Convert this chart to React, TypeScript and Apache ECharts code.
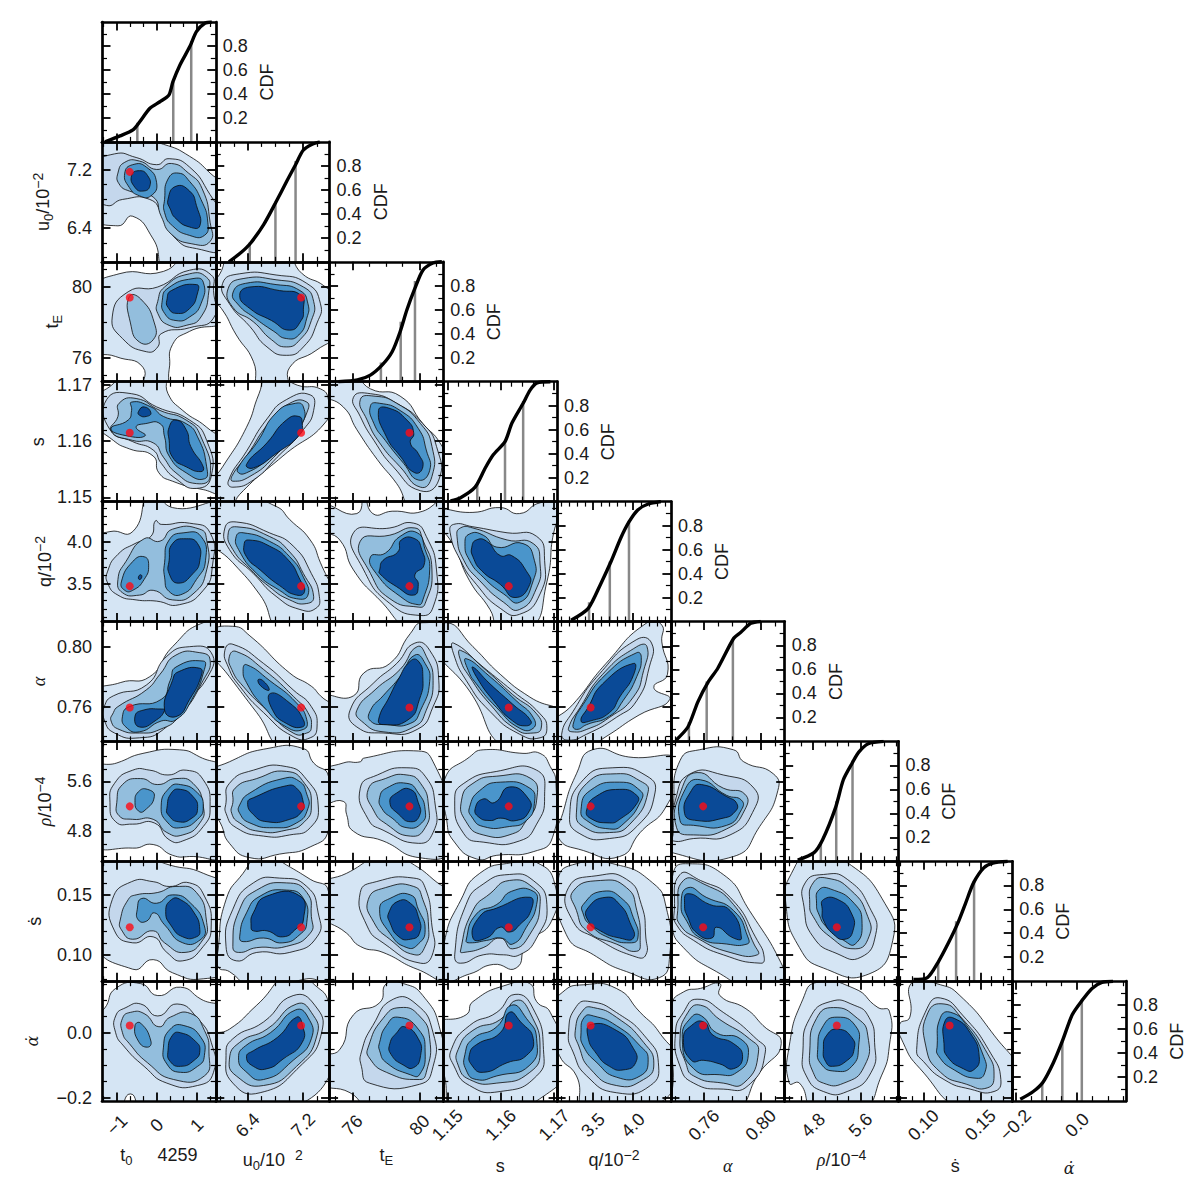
import React, { useEffect, useRef } from "react";
import * as echarts from "echarts";

const PARAMS = ["t0", "u0", "tE", "s", "q", "alpha", "rho", "sdot", "adot"];
const AXIS_MIN = [-1.375, 5.94, 74.64, 1.14925, 3.05, 0.73684, 4.32, 0.0781, -0.21];
const AXIS_MAX = [1.475, 7.58, 81.42, 1.17056, 4.475, 0.8168, 6.24, 0.178, 0.158];
const MAJOR_TICKS = [[-1, 0, 1], [6.4, 7.2], [76, 80], [1.15, 1.16, 1.17], [3.5, 4.0], [0.76, 0.8], [4.8, 5.6], [0.1, 0.15], [-0.2, 0]];
const MINOR_TICKS = [
  [-1.333, -0.667, -0.333, 0.333, 0.667, 1.333],
  [6.0, 6.2, 6.6, 6.8, 7.0, 7.4],
  [75, 77, 78, 79, 81],
  [1.152, 1.154, 1.156, 1.158, 1.162, 1.164, 1.166, 1.168],
  [3.1, 3.2, 3.3, 3.4, 3.6, 3.7, 3.8, 3.9, 4.1, 4.2, 4.3, 4.4],
  [0.74, 0.75, 0.77, 0.78, 0.79, 0.81],
  [4.4, 4.6, 5.0, 5.2, 5.4, 5.8, 6.0, 6.2],
  [0.08, 0.09, 0.11, 0.12, 0.13, 0.14, 0.16, 0.17],
  [-0.15, -0.1, -0.05, 0.05, 0.1, 0.15],
];
const DECIMALS = [0, 1, 0, 2, 1, 2, 1, 2, 1];
const NB = "\u00a0";
const X_TITLES = [
  `{m|t}{d|0}{m|${NB}${NB}${NB}${NB}${NB}4259}`,
  `{m|u}{d|0}{m|/10${NB}${NB}}{u|2}`,
  "{m|t}{d|E}",
  "{m|s}",
  "{m|q/10}{u|\u22122}",
  "{g|\u03b1}",
  "{g|\u03c1}{m|/10}{u|\u22124}",
  "{m|\u1e61}",
  "{h|\u03b1\u0307}",
];
const Y_TITLES = [
  "",
  "{m|u}{d|0}{m|/10}{u|\u22122}",
  "{m|t}{d|E}",
  "{m|s}",
  "{m|q/10}{u|\u22122}",
  "{g|\u03b1}",
  "{g|\u03c1}{m|/10}{u|\u22124}",
  "{m|\u1e61}",
  "{h|\u03b1\u0307}",
];
const X_TITLE_GAP = [42, 47, 42, 53, 47, 53, 47, 53, 55];
const Y_TITLE_GAP = [0, 47, 38, 52, 45, 51, 45, 55, 58];

const BEST_FIT = [-0.68, 7.17, 79.4, 1.1615, 3.47, 0.7595, 5.2, 0.123, 0.022];
const LEVEL_COLORS = ["#d5e5f4", "#c4d7ec", "#93bedd", "#4a95cb", "#0a4a97"];

const CDF_LEVELS = [0.16, 0.5, 0.84];
const CDF_TICKS_MAJOR = [0.2, 0.4, 0.6, 0.8];
const CDF_TICKS_MINOR = [0.1, 0.3, 0.5, 0.7, 0.9];

const cdf_t0 = [[-1.3, 0], [-0.925, 0.05], [-0.6, 0.1], [-0.425, 0.17], [-0.175, 0.28], [0.075, 0.335], [0.3, 0.39], [0.4, 0.5], [0.575, 0.64], [0.825, 0.795], [0.99, 0.92], [1.2, 0.99], [1.375, 1]];
const cdf_u0 = [[6.13, 0], [6.3, 0.075], [6.44, 0.155], [6.63, 0.31], [6.8, 0.49], [6.97, 0.68], [7.09, 0.81], [7.2, 0.93], [7.33, 0.98], [7.44, 1]];
const cdf_tE = [[75.17, 0], [76.3, 0.015], [77.07, 0.055], [77.78, 0.14], [78.37, 0.25], [78.84, 0.415], [79.25, 0.6], [79.73, 0.78], [80.2, 0.93], [80.8, 0.99], [81.33, 1]];
const cdf_s = [[1.1506, 0.005], [1.1524, 0.03], [1.1552, 0.12], [1.1571, 0.28], [1.1586, 0.39], [1.1608, 0.5], [1.1621, 0.655], [1.1642, 0.82], [1.1655, 0.93], [1.1668, 0.99], [1.1693, 1]];
const cdf_q = [[3.225, 0.01], [3.44, 0.11], [3.6, 0.32], [3.725, 0.5], [3.85, 0.7], [3.95, 0.83], [4.06, 0.93], [4.19, 0.98], [4.35, 1]];
const cdf_alpha = [[0.7404, 0.01], [0.7488, 0.12], [0.7558, 0.33], [0.7628, 0.49], [0.7698, 0.61], [0.781, 0.86], [0.786, 0.91], [0.793, 0.985], [0.8, 1]];
const cdf_rho = [[4.54, 0.01], [4.81, 0.07], [4.96, 0.18], [5.18, 0.45], [5.31, 0.68], [5.46, 0.82], [5.57, 0.91], [5.73, 0.98], [5.99, 1]];
const cdf_sdot = [[0.0912, 0.015], [0.1035, 0.03], [0.113, 0.16], [0.122, 0.32], [0.13, 0.48], [0.137, 0.65], [0.144, 0.82], [0.153, 0.945], [0.161, 0.985], [0.174, 1]];
const cdf_adot = [[-0.184, 0.015], [-0.142, 0.08], [-0.11, 0.16], [-0.077, 0.32], [-0.048, 0.5], [-0.016, 0.72], [0.016, 0.84], [0.048, 0.94], [0.08, 0.99], [0.116, 1]];
const CDF_CURVES = [cdf_t0, cdf_u0, cdf_tE, cdf_s, cdf_q, cdf_alpha, cdf_rho, cdf_sdot, cdf_adot];
const QUANTILES = [[-0.49, 0.41, 0.86], [6.43, 6.8, 7.09], [77.7, 78.88, 79.73], [1.1556, 1.1608, 1.1642], [3.45, 3.71, 3.95], [0.7495, 0.762, 0.7804], [4.93, 5.19, 5.465], [0.113, 0.1287, 0.1445], [-0.113, -0.048, 0.015]];

// Contours: [level, a, b, a, b, ...]; a and b are percentages of the column and row parameter ranges.
const u0_t0 = [
  [0, 10,100,54,98,77,88,95,74,100,60,100,0,58,0,45,19,27,38,14,30,0,40,0,94],
  [1, 0,79,11,90,30,87,48,81,59,86,77,79,95,56,100,33,100,11,83,11,65,19,53,39,42,52,18,52,4,47,0,58],
  [2, 14,74,20,83,33,84,48,77,61,82,76,74,88,61,95,33,95,17,79,15,61,23,52,38,45,54,24,59,15,65],
  [3, 20,74,27,81,39,79,48,66,43,55,33,55,24,62],
  [3, 55,52,58,69,67,74,77,67,87,52,93,33,90,22,77,22,62,30,55,41],
  [4, 26,72,33,76,40,72,42,63,36,59,29,62],
  [4, 58,52,65,63,77,59,83,47,86,30,77,29,65,36,60,44],
];
const tE_t0 = [
  [0, 0,75,15,90,54,92,77,100,100,100,100,54,77,42,62,31,59,10,55,0,37,0,36,12,12,21,0,28],
  [1, 9,54,23,75,49,79,77,93,96,89,98,76,98,53,77,45,52,40,49,29,39,25,18,36],
  [2, 24,71,34,69,46,49,45,35,33,33,25,49],
  [2, 49,67,55,79,77,90,92,87,94,76,87,54,74,47,59,47,49,57],
  [3, 53,68,58,78,80,86,89,83,87,65,77,54,65,51,55,57],
  [4, 57,68,61,76,83,81,84,74,77,61,65,57,58,62],
];
const s_t0 = [
  [0, 0,85,7,96,24,100,54,100,58,90,71,76,92,62,100,46,100,8,89,10,62,17,50,24,45,38,24,44,10,51,0,68],
  [1, 4,85,26,90,48,79,77,68,92,51,96,21,83,11,65,19,52,32,45,43,27,50,7,60],
  [2, 14,71,15,82,30,86,51,76,74,68,87,54,95,21,83,15,65,24,54,37,45,49,27,51,8,59],
  [3, 26,83,43,79,54,71,74,65,84,54,92,29,90,19,74,24,59,38,55,54,51,65,38,65,30,62,38,55,21,55,8,61,23,68,26,76],
  [4, 32,75,37,79,43,74,39,71,33,72],
  [4, 59,62,65,68,74,60,78,46,89,29,87,25,74,29,62,37,59,51],
];
const q_t0 = [
  [0, 0,67,7,75,27,75,43,100,62,95,100,93,100,0,9,0,0,15],
  [1, 5,42,14,56,29,65,43,71,47,84,52,81,77,82,95,74,97,46,89,26,68,14,48,17,30,18,14,22,5,32],
  [2, 14,35,21,50,37,69,51,67,62,77,86,77,92,68,92,43,80,23,62,18,45,26,33,22,18,24],
  [3, 17,33,27,50,37,54,41,47,37,35,27,26,20,26],
  [3, 55,49,59,68,72,74,87,71,91,51,83,35,71,23,59,25,55,37],
  [4, 32,37,34,39,35,37,33,35],
  [4, 59,51,62,65,74,69,84,65,86,51,80,40,67,32,59,40],
];
const alpha_t0 = [
  [0, 0,38,16,49,42,54,62,79,89,99,100,96,100,0,0,0],
  [1, 2,29,10,38,39,47,57,71,77,79,96,74,93,54,68,28,54,10,33,3,11,7,2,18],
  [2, 10,24,14,29,39,43,51,56,65,72,86,74,95,68,89,51,68,21,51,10,33,7,15,10,8,17],
  [3, 18,21,24,29,52,35,60,51,65,62,89,67,90,60,79,35,65,18,52,17,33,8,21,12],
  [4, 29,21,36,26,52,27,55,26,48,18,33,12],
  [4, 55,26,62,51,67,58,86,61,87,54,77,35,66,21],
];
const rho_t0 = [
  [0, 0,76,13,82,36,90,68,93,86,87,100,74,100,7,77,4,62,5,45,14,27,11,0,17],
  [1, 7,49,11,65,27,76,42,76,58,72,74,76,89,68,95,46,89,29,71,17,59,18,46,32,27,31,12,33],
  [2, 13,49,18,64,34,69,49,64,65,69,80,65,89,46,86,32,71,22,57,24,45,35,27,35,15,38],
  [3, 29,49,32,58,40,60,46,54,37,42,32,42],
  [3, 52,46,59,61,69,64,84,57,89,46,84,35,69,28,58,32],
  [4, 57,44,61,57,69,60,80,54,84,44,79,36,67,33,58,39],
];
const sdot_t0 = [
  [0, 0,97,24,100,59,97,89,90,100,76,100,12,89,2,62,7,45,18,27,10,0,35],
  [1, 9,68,26,83,45,83,59,79,77,82,90,71,96,46,89,29,71,17,57,24,45,37,27,32,11,42],
  [2, 16,51,23,68,30,72,49,74,65,79,83,74,92,49,89,35,73,24,55,32,45,42,27,35,17,43],
  [3, 31,60,35,69,48,65,62,72,78,65,90,46,87,35,71,32,55,47,46,57,39,50,32,51],
  [4, 56,58,61,68,69,68,81,57,86,43,83,37,71,37,61,46],
];
const adot_t0 = [
  [0, 2,77,12,94,34,98,49,88,69,95,87,85,100,74,100,0,37,0,25,6,13,0,0,0,0,70],
  [1, 12,71,21,78,34,81,49,71,66,81,84,69,96,49,98,24,84,13,57,15,37,29,19,46,12,57],
  [2, 18,69,25,74,37,73,50,62,60,70,78,73,90,59,94,41,90,21,63,18,40,32,24,48,18,57],
  [3, 29,63,34,65,43,50,40,45,32,50],
  [3, 54,45,60,60,72,63,87,53,90,38,84,29,69,24,57,31],
  [4, 58,42,62,55,69,57,82,50,86,42,81,34,69,29,60,33],
];
const tE_u0 = [
  [0, 0,74,3,89,15,100,60,100,76,90,95,80,100,67,100,42,88,26,65,12,62,0,39,0,33,17,18,39,5,61],
  [1, 6,82,21,90,53,89,80,82,92,65,89,49,77,29,62,22,45,29,30,46,12,65],
  [2, 11,78,24,86,53,85,77,79,86,67,84,51,74,35,62,29,49,35,33,50,15,62],
  [3, 15,74,26,82,53,81,74,76,81,65,80,53,73,39,62,36,51,42,33,54,20,64],
  [4, 21,72,30,79,56,76,75,72,77,60,75,51,65,43,49,51,30,61],
];
const s_u0 = [
  [0, 0,10,6,29,27,62,38,90,47,100,72,97,92,94,99,85,98,68,59,38,21,6,12,0,0,0],
  [1, 11,17,27,42,45,69,62,85,83,89,86,76,77,60,54,37,33,18,15,12],
  [2, 14,21,27,38,47,66,65,82,80,83,80,74,71,60,51,37,30,21,15,17],
  [3, 20,29,36,49,53,74,70,82,77,79,76,65,65,54,45,35,27,24,20,24],
  [4, 27,31,45,49,62,68,73,71,76,65,74,56,53,40,33,28],
];
const q_u0 = [
  [0, 0,90,12,100,53,96,65,85,83,68,92,49,100,13,100,0,59,0,39,22,15,49,0,71],
  [1, 8,78,18,83,47,74,68,63,84,40,91,21,88,11,74,10,53,21,33,40,12,60],
  [2, 11,74,18,79,47,71,65,58,77,40,86,21,80,15,65,18,47,29,30,44,15,60],
  [3, 18,71,24,74,47,67,65,54,77,37,81,22,71,19,56,26,36,40,20,60],
  [4, 25,65,29,68,47,63,64,51,74,35,78,25,71,22,56,30,39,43,27,54],
];
const alpha_u0 = [
  [0, 0,90,15,96,30,88,65,57,84,46,92,38,100,24,100,0,62,0,36,24,12,54,0,79],
  [1, 8,76,15,81,42,65,68,43,84,29,89,12,83,3,68,4,42,24,21,46,11,62],
  [2, 12,71,18,75,42,60,71,35,81,24,84,12,80,7,68,7,45,26,24,46,14,60],
  [3, 24,60,27,64,47,51,71,32,80,18,77,10,62,12,42,29,27,49],
  [4, 37,51,41,51,47,43,41,45],
  [4, 48,40,65,32,77,18,76,12,62,15,50,26],
];
const rho_u0 = [
  [0, 0,71,12,83,45,94,77,94,86,82,99,71,99,26,83,12,56,6,30,3,12,15,4,32,0,51],
  [1, 9,49,12,65,33,76,62,79,80,68,90,47,83,28,65,22,42,21,18,28,9,40],
  [2, 15,49,17,61,36,69,62,75,78,65,84,47,78,33,62,26,38,25,21,32,14,40],
  [3, 21,47,30,57,59,69,73,67,80,56,81,44,71,32,51,28,30,32,21,40],
  [4, 28,49,33,53,62,63,71,61,77,49,76,42,65,35,45,33,33,39],
];
const sdot_u0 = [
  [0, 2,26,9,68,24,90,41,100,62,97,83,85,99,75,99,2,80,2,36,0,12,8,2,12],
  [1, 9,29,15,60,33,82,56,86,80,79,90,57,89,37,65,24,36,24,18,17],
  [2, 15,29,21,60,36,76,62,82,80,74,84,54,83,40,62,29,36,28,20,24],
  [3, 21,37,27,57,39,71,62,76,77,69,80,49,74,39,59,32,42,36,24,33],
  [4, 31,46,33,57,45,71,74,71,77,51,71,44,59,37,45,42,33,42],
];
const adot_u0 = [
  [0, 0,52,12,60,36,80,68,100,88,96,99,83,100,40,62,0,0,0],
  [1, 9,38,15,52,42,66,68,88,87,80,93,57,74,29,39,7,15,15],
  [2, 12,35,21,49,45,60,71,81,84,74,89,55,71,29,42,13,18,21],
  [3, 20,36,26,46,48,57,70,76,81,70,84,52,68,34,42,18,26,25],
  [4, 27,37,33,42,54,53,71,70,76,64,76,49,59,35,45,27,33,29],
];
const s_tE = [
  [0, 0,96,18,100,36,94,62,88,82,65,97,49,100,25,100,0,75,0,59,15,42,35,24,60,12,79,0,90],
  [1, 21,87,36,90,59,82,82,65,94,46,96,18,80,9,56,29,39,51,27,71],
  [2, 27,85,39,88,59,82,80,65,90,46,90,21,80,12,62,29,44,49,33,68],
  [3, 36,80,44,82,62,76,78,61,85,43,88,26,78,18,65,32,49,51,39,65],
  [4, 43,76,52,78,68,68,74,57,71,49,78,40,82,29,75,24,62,38,50,54],
];
const q_tE = [
  [0, 0,97,24,90,30,100,38,90,55,92,82,92,100,100,100,0,74,0,44,18,21,43,9,68,0,78],
  [1, 21,74,53,78,74,82,85,71,94,43,91,12,80,5,53,15,30,43],
  [2, 27,67,53,72,75,78,82,68,90,43,84,15,78,12,53,19,36,40],
  [3, 36,54,49,57,62,71,77,74,84,60,88,43,82,18,78,14,62,21,41,40],
  [4, 44,43,47,51,60,58,63,68,75,69,81,60,83,47,75,39,78,31,74,22,59,29,44,40],
];
const alpha_tE = [
  [0, 0,35,21,38,30,57,53,65,71,90,82,99,100,90,100,0,0,0],
  [1, 18,26,39,49,59,65,75,82,88,76,96,51,91,29,77,10,47,7,24,12],
  [2, 24,26,40,43,62,60,77,79,85,71,91,51,85,26,74,12,47,8,28,17],
  [3, 36,26,47,38,62,54,75,72,84,65,88,50,80,26,71,15,50,14,36,17],
  [4, 43,18,53,38,60,51,71,67,78,67,82,54,79,35,69,18,47,14],
];
const rho_tE = [
  [0, 0,72,12,82,27,83,30,86,78,92,91,83,100,35,100,9,79,3,47,17,21,25,15,39,12,50,0,49],
  [1, 27,61,42,72,68,78,84,71,93,46,91,24,78,15,47,26,34,35],
  [2, 34,60,49,69,68,72,80,65,87,46,84,28,71,21,50,31,39,42],
  [3, 44,53,50,61,68,65,78,57,84,43,81,32,68,28,55,36,46,44],
  [4, 53,49,59,57,71,60,78,49,79,38,71,33,61,39],
];
const sdot_tE = [
  [0, 0,79,15,90,53,100,71,99,91,85,100,68,100,2,77,10,47,24,27,29,15,40,0,57],
  [1, 27,74,41,83,74,86,84,78,90,46,91,24,80,15,47,32,33,46],
  [2, 34,68,49,78,74,79,82,68,87,46,84,29,75,22,53,35,39,49],
  [3, 44,60,53,69,71,72,78,60,84,43,78,31,68,28,53,40],
  [4, 52,57,61,67,71,65,78,54,79,40,71,35,61,37,53,49],
];
const adot_tE = [
  [0, 0,36,9,43,21,72,44,82,50,98,65,98,82,88,97,60,100,0,38,0,18,7,0,16],
  [1, 28,41,38,63,56,85,76,81,91,57,91,29,79,14,35,15,28,29],
  [2, 34,45,47,69,62,78,79,71,88,52,85,24,79,18,50,24,35,36],
  [3, 44,49,50,63,60,70,78,60,84,41,79,22,71,22,50,32,44,42],
  [4, 53,48,59,57,66,62,78,52,80,38,74,28,65,30,54,39],
];
const q_s = [
  [0, 0,93,26,91,50,95,67,90,85,99,100,99,98,78,91,33,76,0,50,0,41,10,23,34,8,65,0,85],
  [1, 6,74,9,81,26,79,56,74,82,71,89,51,85,23,67,6,50,11,29,31,15,51],
  [2, 12,71,15,78,26,78,56,68,79,65,85,48,82,28,67,10,53,16,32,34,18,51],
  [3, 19,65,23,73,35,72,47,62,70,65,80,51,79,34,67,16,53,23,35,37,23,51],
  [4, 25,62,29,68,38,67,50,55,60,55,73,42,76,31,63,20,50,31,34,42,26,54],
];
const alpha_s = [
  [0, 3,99,26,79,50,56,76,37,100,20,100,0,58,0,23,42,0,82],
  [1, 9,82,35,62,61,42,85,23,91,11,85,3,67,6,41,25,20,51,9,73],
  [2, 15,76,38,59,61,39,82,23,86,11,79,7,64,10,41,31,23,54,15,68],
  [3, 20,69,41,54,64,34,79,20,79,11,67,11,47,28,29,48,22,59],
  [4, 26,62,41,48,61,31,77,17,73,13,61,17,44,34,29,54],
];
const rho_s = [
  [0, 1,68,23,87,35,93,70,90,85,90,94,79,99,65,96,20,79,8,47,5,29,2,9,17,3,34],
  [1, 10,51,18,65,47,75,82,76,89,54,82,31,67,17,35,16,18,23],
  [2, 16,51,26,65,47,71,77,69,82,51,73,34,61,23,35,22,20,33],
  [3, 23,45,32,59,50,66,76,61,80,48,73,34,58,29,35,29,25,37],
  [4, 28,44,35,52,45,49,58,62,75,52,75,41,64,34,50,36,41,34,31,37],
];
const sdot_s = [
  [0, 1,33,15,67,32,90,61,99,82,99,98,81,95,50,73,31,64,11,44,14,23,6,1,2],
  [1, 10,22,20,64,35,81,58,89,79,84,91,64,82,36,67,22,53,22,35,22,15,15],
  [2, 15,25,26,59,41,73,58,84,79,78,85,64,76,39,61,27,50,36,35,28,18,24],
  [3, 20,34,29,56,47,64,60,75,79,75,82,64,73,45,61,31,51,36,38,34,23,32],
  [4, 26,36,32,54,47,61,76,70,77,59,67,47,58,41,50,45,38,36],
];
const adot_s = [
  [0, 0,62,20,72,26,83,56,97,76,98,82,83,94,74,100,32,88,4,47,0,10,0,1,21],
  [1, 7,43,23,63,47,74,63,89,79,77,88,43,82,21,50,8,23,13,9,30],
  [2, 13,43,26,59,50,68,64,84,76,74,85,43,76,24,47,15,23,18,13,30],
  [3, 19,39,26,52,47,62,60,80,73,69,82,52,76,30,47,21,29,18,20,26],
  [4, 23,39,29,47,50,57,58,74,68,66,79,52,73,38,56,32,35,24,25,30],
];
const alpha_q = [
  [0, 0,11,14,31,43,65,79,99,92,97,92,83,97,56,85,45,99,35,72,22,43,4,21,0,0,0],
  [1, 4,6,14,25,37,56,70,85,83,82,81,62,70,34,52,20,26,6,10,1],
  [2, 10,11,20,28,40,56,70,79,79,79,76,59,67,37,46,20,26,10,13,8],
  [3, 14,14,23,31,43,56,70,74,74,70,70,54,58,34,46,21,26,14,17,10],
  [4, 21,17,27,28,40,48,67,65,67,55,55,37,46,24,29,17],
];
const rho_q = [
  [0, 1,20,5,40,17,73,31,93,63,87,100,83,96,46,73,24,55,4,23,9],
  [1, 11,38,23,68,49,78,79,71,86,57,70,29,46,19,20,23],
  [2, 17,41,26,65,52,73,73,67,80,58,64,31,46,24,23,29],
  [3, 21,43,29,59,55,66,73,59,74,51,58,31,46,27,26,34],
  [4, 26,43,34,54,55,60,70,55,70,48,55,35,46,32,29,36],
];
const sdot_q = [
  [0, 1,85,17,98,49,98,84,82,96,61,99,22,90,3,61,8,32,22,8,39],
  [1, 10,78,35,88,61,85,74,64,78,36,78,22,70,20,34,36,14,50],
  [2, 14,75,38,84,61,78,70,59,73,34,70,25,52,31,26,42,17,59],
  [3, 23,64,40,75,58,68,67,53,71,36,64,32,46,36,29,47,23,56],
  [4, 27,61,43,70,55,64,64,49,67,36,55,36,38,42,27,51],
];
const adot_q = [
  [0, 0,72,5,91,23,97,52,94,73,74,90,57,100,26,76,0,26,0,17,21,2,38],
  [1, 10,57,17,79,29,83,52,74,79,52,89,32,82,13,52,7,26,21,14,41],
  [2, 16,59,23,76,32,78,52,70,76,49,85,31,76,18,52,13,29,27,19,46],
  [3, 21,57,24,70,32,71,52,63,73,46,80,35,73,21,52,20,35,32,23,46],
  [4, 27,54,30,64,52,59,67,44,69,32,58,26,46,29,35,39],
];
const rho_alpha = [
  [0, 1,17,2,45,8,84,25,93,55,93,64,83,90,73,94,59,78,29,55,4,2,7],
  [1, 2,23,4,51,17,73,46,72,73,61,73,43,52,22,20,19,2,17],
  [2, 5,28,9,59,23,74,46,61,65,56,65,43,49,27,20,22],
  [3, 8,34,13,61,26,68,49,55,62,51,62,43,49,30,20,30],
  [4, 12,40,18,59,27,64,49,54,58,48,56,41,46,36,23,34],
];
const sdot_alpha = [
  [0, 1,47,2,90,13,98,46,89,69,59,99,11,99,1,78,0,40,8,11,28],
  [1, 3,59,8,89,26,84,52,70,76,34,82,20,79,15,46,22,20,34,5,47],
  [2, 6,59,11,84,29,81,55,64,73,31,76,22,52,24,23,36,8,47],
  [3, 9,64,15,78,31,70,55,59,68,36,67,31,49,31,26,36,14,50],
  [4, 12,64,15,73,34,64,52,59,62,36,55,36,40,45,36,36,23,40,15,53],
];
const adot_alpha = [
  [0, 1,80,11,91,26,94,43,98,43,88,66,77,81,63,97,48,78,24,55,0,8,0,2,26],
  [1, 4,57,11,74,23,85,46,74,75,52,83,41,68,13,46,10,20,15,8,29],
  [2, 8,52,15,74,26,80,43,68,69,52,77,41,64,15,46,15,20,21,13,32],
  [3, 10,52,18,70,27,71,40,57,61,52,68,38,58,24,43,22,20,27],
  [4, 11,52,18,63,29,66,37,55,55,48,63,37,55,27,43,31,29,34,18,34],
];
const sdot_rho = [
  [0, 1,65,6,90,25,100,55,99,88,65,95,34,74,6,34,11,13,28],
  [1, 17,62,18,82,34,89,55,85,76,59,80,39,67,20,46,23,25,37],
  [2, 22,65,25,82,37,86,58,76,73,54,74,37,62,27,40,37,25,54],
  [3, 28,65,30,76,40,77,61,65,68,48,62,31,52,34,37,45,30,56],
  [4, 33,59,34,68,47,68,59,56,60,42,53,35,43,39,34,51],
];
const adot_rho = [
  [0, 4,15,4,46,16,85,28,99,61,94,82,78,92,75,92,46,85,21,67,0,27,0,13,15],
  [1, 16,41,22,69,40,83,61,80,74,70,79,49,76,24,55,8,34,8,19,21],
  [2, 22,41,28,69,43,78,64,69,73,55,70,29,52,15,34,15,25,24],
  [3, 29,43,34,63,46,70,62,63,65,46,59,29,44,25,32,31],
  [4, 34,43,37,55,47,60,59,53,61,43,55,34,42,29,36,33],
];
const adot_sdot = [
  [0, 1,64,10,70,12,99,37,97,54,88,84,55,100,21,100,0,59,0,19,27,4,49],
  [1, 16,43,25,77,37,86,57,71,81,40,90,18,84,8,63,10,40,18,22,33],
  [2, 24,46,26,74,40,81,54,71,78,40,84,21,78,11,60,14,37,24],
  [3, 34,46,37,70,46,74,60,63,75,37,76,24,69,19,49,26,35,38],
  [4, 40,48,41,67,49,69,63,57,71,37,66,26,57,27,43,37],
];
const CONTOURS: Record<string, number[][]> = {
  u0_t0, tE_t0, s_t0, q_t0, alpha_t0, rho_t0, sdot_t0, adot_t0,
  tE_u0, s_u0, q_u0, alpha_u0, rho_u0, sdot_u0, adot_u0,
  s_tE, q_tE, alpha_tE, rho_tE, sdot_tE, adot_tE,
  q_s, alpha_s, rho_s, sdot_s, adot_s,
  alpha_q, rho_q, sdot_q, adot_q,
  rho_alpha, sdot_alpha, adot_alpha,
  sdot_rho, adot_rho,
  adot_sdot,
};

const LEFT = 102;
const TOP = 22;
const CELL_W = 113.78;
const CELL_H = 119.9;
const FONT = "'Liberation Sans', Arial, sans-serif";
const TICK_COLOR = "#000";
const TEXT_COLOR = "#1a1a1a";
const RICH = {
  m: { fontFamily: FONT, fontSize: 18, lineHeight: 24, color: TEXT_COLOR },
  d: { fontFamily: FONT, fontSize: 13, lineHeight: 24, verticalAlign: "bottom", color: TEXT_COLOR },
  u: { fontFamily: FONT, fontSize: 14, lineHeight: 24, verticalAlign: "top", color: TEXT_COLOR },
  g: { fontFamily: "'Liberation Serif', serif", fontStyle: "italic", fontSize: 18, lineHeight: 24, color: TEXT_COLOR },
  h: { fontFamily: "'DejaVu Serif', serif", fontStyle: "italic", fontSize: 16, lineHeight: 24, color: TEXT_COLOR },
};
const fmt = (v: number, d: number) => (v < 0 ? "\u2212" : "") + Math.abs(v).toFixed(d);

function axisPair(gridIndex: number, min: number, max: number, majors: number[], minors: number[], position: string, extra: any = {}) {
  const major: any = {
    type: "value", gridIndex, min, max, position, z: 10, nameMoveOverlap: false,
    splitLine: { show: false },
    axisLine: { show: true, onZero: false, lineStyle: { color: TICK_COLOR, width: 2.7 } },
    axisTick: { show: true, inside: true, length: 8.5, customValues: majors, lineStyle: { color: TICK_COLOR, width: 1.8 } },
    axisLabel: { show: false },
    ...extra,
  };
  const minor: any = {
    type: "value", gridIndex, min, max, position, z: 10,
    splitLine: { show: false },
    axisLine: { show: false, onZero: false },
    axisTick: { show: true, inside: true, length: 5, customValues: minors, lineStyle: { color: TICK_COLOR, width: 1.2 } },
    axisLabel: { show: false },
  };
  return [major, minor];
}

function buildOption() {
  const grid: any[] = [];
  const xAxis: any[] = [];
  const yAxis: any[] = [];
  const series: any[] = [];
  const n = PARAMS.length;
  for (let r = 0; r < n; r++) {
    for (let c = 0; c <= r; c++) {
      const g = grid.length;
      grid.push({ left: LEFT + c * CELL_W, top: TOP + r * CELL_H, width: CELL_W, height: CELL_H, show: false });
      const xMin = AXIS_MIN[c];
      const xMax = AXIS_MAX[c];
      const isDiag = r === c;
      const yMin = isDiag ? 0 : AXIS_MIN[r];
      const yMax = isDiag ? 1 : AXIS_MAX[r];
      const yMaj = isDiag ? CDF_TICKS_MAJOR : MAJOR_TICKS[r];
      const yMin2 = isDiag ? CDF_TICKS_MINOR : MINOR_TICKS[r];

      let xExtra: any = {};
      if (r === n - 1) {
        xExtra = {
          name: X_TITLES[c],
          nameLocation: "middle",
          nameGap: X_TITLE_GAP[c],
          nameTextStyle: { rich: RICH },
          axisLabel: {
            show: true, customValues: MAJOR_TICKS[c], rotate: 45, margin: 24,
            align: "center", verticalAlign: "middle",
            fontFamily: FONT, fontSize: 18, color: TEXT_COLOR,
            showMinLabel: true, showMaxLabel: true,
            formatter: (v: number) => fmt(v, DECIMALS[c]),
          },
        };
      }
      let yExtra: any = {};
      if (c === 0 && r > 0) {
        yExtra = {
          name: Y_TITLES[r],
          nameLocation: "middle",
          nameRotate: 90,
          nameGap: Y_TITLE_GAP[r],
          nameTextStyle: { rich: RICH },
          axisLabel: {
            show: true, customValues: MAJOR_TICKS[r], margin: 10,
            fontFamily: FONT, fontSize: 18, color: TEXT_COLOR,
            showMinLabel: true, showMaxLabel: true,
            formatter: (v: number) => fmt(v, DECIMALS[r]),
          },
        };
      }
      let yRightExtra: any = {};
      if (isDiag) {
        yRightExtra = {
          name: "CDF",
          nameLocation: "middle",
          nameRotate: 90,
          nameGap: 42,
          nameTextStyle: { fontFamily: FONT, fontSize: 18, color: TEXT_COLOR },
          axisLabel: {
            show: true, customValues: CDF_TICKS_MAJOR, margin: 7,
            fontFamily: FONT, fontSize: 18, color: TEXT_COLOR,
            showMinLabel: true, showMaxLabel: true,
            formatter: (v: number) => v.toFixed(1),
          },
        };
      }
      const xIndex = xAxis.length;
      const yIndex = yAxis.length;
      xAxis.push(...axisPair(g, xMin, xMax, MAJOR_TICKS[c], MINOR_TICKS[c], "bottom", xExtra));
      xAxis.push(...axisPair(g, xMin, xMax, MAJOR_TICKS[c], MINOR_TICKS[c], "top"));
      yAxis.push(...axisPair(g, yMin, yMax, yMaj, yMin2, "left", yExtra));
      yAxis.push(...axisPair(g, yMin, yMax, yMaj, yMin2, "right", yRightExtra));

      if (isDiag) {
        QUANTILES[c].forEach((q, i) => {
          series.push({
            type: "line", xAxisIndex: xIndex, yAxisIndex: yIndex, showSymbol: false, silent: true, z: 3,
            data: [[q, 0], [q, CDF_LEVELS[i]]],
            lineStyle: { color: "#888888", width: 2.5 },
          });
        });
        series.push({
          type: "line", xAxisIndex: xIndex, yAxisIndex: yIndex, showSymbol: false, silent: true, z: 4,
          smooth: 0.25, clip: true, data: CDF_CURVES[c],
          lineStyle: { color: "#000", width: 3.4 },
        });
      } else {
        const polys = CONTOURS[`${PARAMS[r]}_${PARAMS[c]}`];
        const toX = (u: number) => xMin + ((u <= 0 ? -8 : u >= 100 ? 108 : u) / 100) * (xMax - xMin);
        const toY = (v: number) => yMin + ((v <= 0 ? -8 : v >= 100 ? 108 : v) / 100) * (yMax - yMin);
        series.push({
          type: "custom", xAxisIndex: xIndex, yAxisIndex: yIndex, silent: true, clip: true, z: 2,
          data: polys.map((_, i) => [xMin, yMin, i]),
          renderItem: (params: any, api: any) => {
            const poly = polys[params.dataIndex];
            const pts: number[][] = [];
            for (let k = 1; k < poly.length; k += 2) {
              pts.push(api.coord([toX(poly[k]), toY(poly[k + 1])]));
            }
            return {
              type: "polygon",
              shape: { points: pts, smooth: 0.55 },
              style: { fill: LEVEL_COLORS[poly[0]], stroke: "#0a0a0a", lineWidth: 0.8 },
            };
          },
        });
        series.push({
          type: "scatter", xAxisIndex: xIndex, yAxisIndex: yIndex, silent: true, z: 5,
          symbolSize: 8, data: [[BEST_FIT[c], BEST_FIT[r]]],
          itemStyle: { color: "#ff0a14" },
        });
      }
    }
  }
  return { animation: false, backgroundColor: "#fff", tooltip: { show: false }, grid, xAxis, yAxis, series };
}

export default function App() {
  const ref = useRef<HTMLDivElement>(null);
  useEffect(() => {
    document.body.style.margin = "0";
    const chart = echarts.init(ref.current as HTMLDivElement, undefined, { renderer: "svg" });
    chart.setOption(buildOption() as any);
    return () => chart.dispose();
  }, []);
  return <div ref={ref} style={{ position: "absolute", left: 0, top: 0, width: 1200, height: 1203, background: "#fff" }} />;
}
